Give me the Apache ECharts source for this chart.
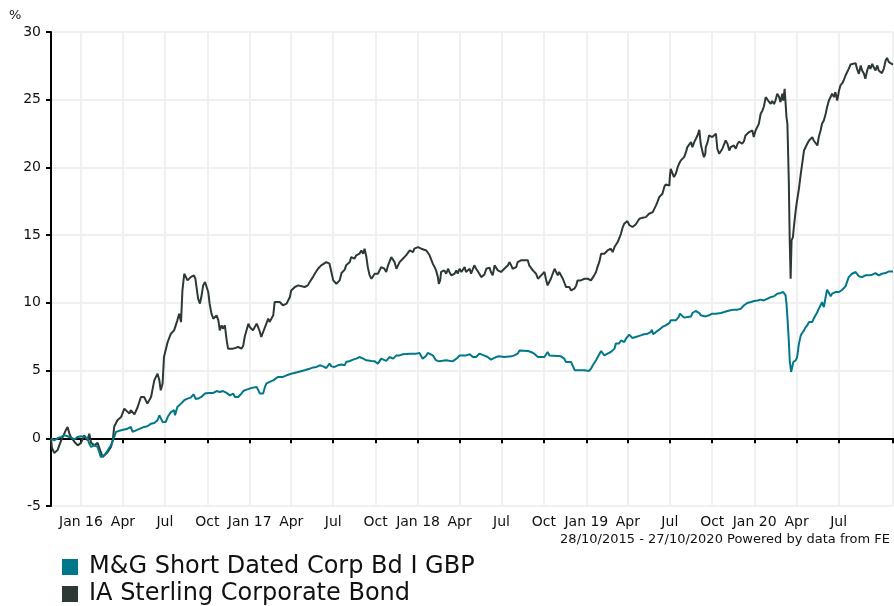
<!DOCTYPE html>
<html>
<head>
<meta charset="utf-8">
<title>M&amp;G Short Dated Corp Bd I GBP vs IA Sterling Corporate Bond</title>
<script src="https://cdn.jsdelivr.net/npm/echarts@6/dist/echarts.min.js"></script>
<style>
  html, body { margin: 0; padding: 0; background: #fff; }
  #chart { width: 894px; height: 606px; }
</style>
</head>
<body>
<div id="chart"></div>
<script>
// series names
var fundName = 'M&G Short Dated Corp Bd I GBP';
var sectorName = 'IA Sterling Corporate Bond';

// period shown
var startDate = '2015-10-28';
var endDate = '2020-10-27';

// x axis: quarter starts and their labels
var tickDates = ['2016-01-01','2016-04-01','2016-07-01','2016-10-01',
  '2017-01-01','2017-04-01','2017-07-01','2017-10-01',
  '2018-01-01','2018-04-01','2018-07-01','2018-10-01',
  '2019-01-01','2019-04-01','2019-07-01','2019-10-01',
  '2020-01-01','2020-04-01','2020-07-01'];
var tickLabels = ['Jan 16','Apr','Jul','Oct','Jan 17','Apr','Jul','Oct',
  'Jan 18','Apr','Jul','Oct','Jan 19','Apr','Jul','Oct','Jan 20','Apr','Jul'];

// cumulative performance, %
var fundData = [
  ['2015-10-28',0],['2015-11-04',-0.15],['2015-11-11',0],['2015-11-19',0.1],['2015-11-26',0.22],
  ['2015-12-03',0.15],['2015-12-10',0.05],['2015-12-18',-0.07],['2015-12-25',0.1],['2016-01-01',0.15],
  ['2016-01-08',0.1],['2016-01-15',0],['2016-01-19',-0.39],['2016-01-23',-0.64],['2016-01-30',-0.52],
  ['2016-02-06',-0.64],['2016-02-13',-1.38],['2016-02-17',-1.45],['2016-02-21',-1.25],['2016-02-28',-0.89],
  ['2016-03-06',-0.52],['2016-03-13',0.1],['2016-03-17',0.47],['2016-03-20',0.54],['2016-03-28',0.59],
  ['2016-04-11',0.71],['2016-04-18',0.84],['2016-04-22',0.47],['2016-04-26',0.54],['2016-05-03',0.64],
  ['2016-05-17',0.84],['2016-05-24',0.89],['2016-06-01',1.08],['2016-06-08',1.13],['2016-06-15',1.33],
  ['2016-06-19',1.70],['2016-06-22',1.57],['2016-06-26',1.21],['2016-07-03',1.21],['2016-07-07',1.57],
  ['2016-07-14',1.94],['2016-07-21',2.07],['2016-07-23',1.70],['2016-07-28',2.31],['2016-08-05',2.56],
  ['2016-08-12',2.81],['2016-08-19',2.93],['2016-08-26',3.0],['2016-09-01',3.25],['2016-09-06',2.9],
  ['2016-09-11',2.93],['2016-09-18',3.05],['2016-09-26',3.30],['2016-10-03',3.35],['2016-10-06',3.49],
  ['2016-10-14',3.35],['2016-10-21',3.49],['2016-10-28',3.42],['2016-11-04',3.49],['2016-11-12',3.35],
  ['2016-11-19',3.17],['2016-11-26',3.30],['2016-11-30',3.05],['2016-12-03',2.93],['2016-12-07',3.05],
  ['2016-12-14',3.30],['2016-12-18',3.49],['2016-12-25',3.59],['2017-01-01',3.67],['2017-01-08',3.74],
  ['2017-01-16',3.79],['2017-01-19',3.59],['2017-01-23',3.30],['2017-01-30',3.30],['2017-02-03',3.79],
  ['2017-02-06',4.03],['2017-02-13',4.16],['2017-02-21',4.28],['2017-02-24',4.40],['2017-03-03',4.53],
  ['2017-03-14',4.53],['2017-03-22',4.65],['2017-04-01',4.77],['2017-04-16',4.90],['2017-04-30',5.02],
  ['2017-05-11',5.14],['2017-05-18',5.22],['2017-05-26',5.27],['2017-06-02',5.39],['2017-06-09',5.31],
  ['2017-06-16',5.19],['2017-06-23',5.51],['2017-06-27',5.31],['2017-07-04',5.27],['2017-07-11',5.39],
  ['2017-07-19',5.45],['2017-07-26',5.4],['2017-07-29',5.63],['2017-08-06',5.71],['2017-08-13',5.81],
  ['2017-08-20',5.88],['2017-08-27',6.0],['2017-09-04',5.88],['2017-09-11',5.76],['2017-09-22',5.71],
  ['2017-09-29',5.68],['2017-10-06',5.51],['2017-10-13',5.88],['2017-10-17',6.0],['2017-10-24',5.71],
  ['2017-10-31',6.0],['2017-11-08',5.88],['2017-11-15',6.12],['2017-11-22',6.12],['2017-11-29',6.2],
  ['2017-12-14',6.25],['2017-12-28',6.25],['2018-01-04',6.3],['2018-01-08',6.2],['2018-01-11',5.88],
  ['2018-01-19',6.12],['2018-01-22',6.3],['2018-02-02',6.12],['2018-02-09',5.76],['2018-02-16',5.68],
  ['2018-03-03',5.76],['2018-03-17',5.68],['2018-03-21',5.63],['2018-03-28',5.95],['2018-04-01',6.12],
  ['2018-04-15',6.12],['2018-04-23',6.2],['2018-04-30',6.0],['2018-05-07',6.0],['2018-05-14',6.25],
  ['2018-05-18',6.3],['2018-05-25',6.1],['2018-06-01',6.0],['2018-06-08',5.81],['2018-06-12',5.95],
  ['2018-06-19',6.0],['2018-06-26',6.05],['2018-07-07',6.0],['2018-07-22',6.05],['2018-07-29',6.12],
  ['2018-08-05',6.25],['2018-08-09',6.49],['2018-08-12',6.54],['2018-08-27',6.44],['2018-09-03',6.37],
  ['2018-09-10',6.25],['2018-09-18',6.0],['2018-10-02',6.0],['2018-10-06',6.05],['2018-10-09',6.37],
  ['2018-10-13',6.12],['2018-10-16',6.0],['2018-11-07',6.05],['2018-11-14',5.88],['2018-11-18',5.63],
  ['2018-11-21',5.51],['2018-11-29',5.63],['2018-12-02',5.39],['2018-12-06',5.51],['2018-12-07',5.02],
  ['2018-12-13',5.02],['2018-12-28',5.02],['2019-01-07',4.97],['2019-01-11',5.14],['2019-01-15',5.39],
  ['2019-01-18',5.51],['2019-01-22',5.76],['2019-01-25',5.81],['2019-01-29',6.2],['2019-02-02',6.44],
  ['2019-02-05',6.37],['2019-02-09',6.12],['2019-02-13',6.12],['2019-02-16',6.25],['2019-02-23',6.37],
  ['2019-03-03',6.62],['2019-03-06',6.99],['2019-03-10',7.11],['2019-03-13',6.99],['2019-03-17',7.23],
  ['2019-03-21',7.36],['2019-03-24',7.11],['2019-03-28',7.36],['2019-03-31',7.48],['2019-04-04',7.65],
  ['2019-04-08',7.6],['2019-04-11',7.4],['2019-04-15',7.3],['2019-04-18',7.48],['2019-04-22',7.53],
  ['2019-04-29',7.6],['2019-05-06',7.68],['2019-05-14',7.72],['2019-05-21',7.85],['2019-05-23',8.02],
  ['2019-05-26',7.68],['2019-06-01',7.85],['2019-06-08',8.02],['2019-06-15',8.22],['2019-06-22',8.34],
  ['2019-06-30',8.51],['2019-07-03',8.71],['2019-07-07',8.59],['2019-07-14',8.71],['2019-07-20',8.95],
  ['2019-07-23',9.20],['2019-07-27',9.08],['2019-08-01',8.91],['2019-08-08',8.95],['2019-08-16',9.0],
  ['2019-08-19',9.25],['2019-08-26',9.40],['2019-08-30',9.45],['2019-09-03',9.25],['2019-09-06',9.08],
  ['2019-09-10',9.15],['2019-09-17',9.0],['2019-09-24',9.08],['2019-10-01',9.20],['2019-10-05',9.32],
  ['2019-10-09',9.20],['2019-10-12',9.15],['2019-10-20',9.25],['2019-10-27',9.32],['2019-11-03',9.40],
  ['2019-11-10',9.45],['2019-11-17',9.50],['2019-11-25',9.50],['2019-12-02',9.57],['2019-12-09',9.82],
  ['2019-12-13',9.94],['2019-12-16',9.99],['2019-12-24',10.06],['2019-12-31',10.14],['2020-01-07',10.18],
  ['2020-01-14',10.24],['2020-01-18',10.31],['2020-01-21',10.18],['2020-01-29',10.31],['2020-02-05',10.43],
  ['2020-02-12',10.48],['2020-02-19',10.68],['2020-02-23',10.6],['2020-02-26',10.73],['2020-03-01',10.63],
  ['2020-03-03',10.80],['2020-03-05',10.92],['2020-03-08',10.55],['2020-03-10',9.94],['2020-03-12',8.95],
  ['2020-03-15',7.23],['2020-03-17',5.76],['2020-03-20',4.90],['2020-03-23',5.02],['2020-03-25',5.63],
  ['2020-03-28',5.51],['2020-03-30',5.76],['2020-04-02',6.0],['2020-04-06',6.99],['2020-04-10',7.6],
  ['2020-04-13',7.77],['2020-04-17',7.97],['2020-04-20',8.17],['2020-04-24',8.34],['2020-04-28',8.59],
  ['2020-05-01',8.71],['2020-05-05',8.59],['2020-05-08',8.83],['2020-05-12',9.08],['2020-05-16',9.32],
  ['2020-05-19',9.57],['2020-05-23',9.82],['2020-05-26',10.06],['2020-05-30',9.69],['2020-06-03',10.43],
  ['2020-06-06',10.97],['2020-06-10',10.87],['2020-06-14',10.48],['2020-06-17',10.68],['2020-06-24',10.80],
  ['2020-07-02',10.80],['2020-07-09',10.97],['2020-07-16',11.22],['2020-07-20',11.29],['2020-07-23',11.9],
  ['2020-07-30',12.15],['2020-08-07',12.28],['2020-08-10',12.28],['2020-08-14',11.96],['2020-08-21',11.9],
  ['2020-08-28',12.03],['2020-09-05',12.03],['2020-09-12',12.08],['2020-09-19',12.2],['2020-09-26',12.03],
  ['2020-10-03',12.15],['2020-10-11',12.2],['2020-10-18',12.32],['2020-10-27',12.32]
];

var sectorData = [
  ['2015-10-28',0],['2015-10-30',-0.7],['2015-11-04',-1.08],['2015-11-11',-0.89],['2015-11-19',-0.15],
  ['2015-11-29',0.59],['2015-12-03',0.84],['2015-12-07',0.34],['2015-12-10',0.1],['2015-12-18',-0.27],
  ['2015-12-25',-0.52],['2016-01-01',-0.34],['2016-01-08',0.22],['2016-01-12',0.22],['2016-01-15',-0.15],
  ['2016-01-19',0.34],['2016-01-23',-0.34],['2016-01-30',-0.52],['2016-02-06',-0.34],['2016-02-13',-1.01],
  ['2016-02-17',-1.38],['2016-02-21',-1.25],['2016-02-28',-1.01],['2016-03-06',-0.64],['2016-03-10',-0.15],
  ['2016-03-13',0.84],['2016-03-20',1.33],['2016-03-28',1.57],['2016-04-04',2.19],['2016-04-07',2.31],
  ['2016-04-15',1.82],['2016-04-18',2.07],['2016-04-26',1.77],['2016-05-03',2.31],['2016-05-10',3.05],
  ['2016-05-17',3.05],['2016-05-24',2.56],['2016-06-01',3.05],['2016-06-08',4.28],['2016-06-15',4.77],
  ['2016-06-19',4.28],['2016-06-22',3.54],['2016-06-26',4.04],['2016-06-29',6.0],['2016-07-07',7.11],
  ['2016-07-14',7.72],['2016-07-21',7.97],['2016-07-25',7.85],['2016-07-28',8.71],['2016-08-01',9.2],
  ['2016-08-05',8.58],['2016-08-08',10.92],['2016-08-12',12.15],['2016-08-15',12.03],['2016-08-19',11.66],
  ['2016-08-26',11.9],['2016-09-02',12.03],['2016-09-05',11.8],['2016-09-08',11.66],['2016-09-11',10.31],
  ['2016-09-15',9.94],['2016-09-18',10.43],['2016-09-22',11.29],['2016-09-26',11.54],['2016-09-29',11.41],
  ['2016-10-03',10.8],['2016-10-06',9.94],['2016-10-10',9.2],['2016-10-14',8.83],['2016-10-17',8.71],
  ['2016-10-21',9.08],['2016-10-25',8.71],['2016-10-28',7.97],['2016-11-01',8.34],['2016-11-04',8.09],
  ['2016-11-08',8.34],['2016-11-12',7.23],['2016-11-15',6.62],['2016-11-19',6.49],['2016-11-26',6.62],
  ['2016-11-30',6.49],['2016-12-07',6.74],['2016-12-14',6.62],['2016-12-18',6.86],['2016-12-21',7.48],
  ['2016-12-29',8.46],['2017-01-01',8.22],['2017-01-08',7.97],['2017-01-16',8.46],['2017-01-19',8.22],
  ['2017-01-23',7.85],['2017-01-26',7.48],['2017-01-30',7.6],['2017-02-06',8.46],['2017-02-10',8.83],
  ['2017-02-13',8.59],['2017-02-21',9.08],['2017-02-24',10.06],['2017-02-28',10.18],['2017-03-07',10.06],
  ['2017-03-14',9.82],['2017-03-22',9.94],['2017-03-29',10.43],['2017-04-01',10.92],['2017-04-09',11.17],
  ['2017-04-16',11.29],['2017-04-30',11.17],['2017-05-07',11.29],['2017-05-11',11.54],['2017-05-18',11.9],
  ['2017-05-22',12.15],['2017-05-29',12.52],['2017-06-05',12.77],['2017-06-16',13.01],['2017-06-20',13.14],
  ['2017-06-23',12.89],['2017-06-27',12.28],['2017-07-01',11.66],['2017-07-08',11.41],['2017-07-15',11.66],
  ['2017-07-19',12.2],['2017-07-26',12.45],['2017-07-29',12.77],['2017-08-06',13.01],['2017-08-09',13.38],
  ['2017-08-16',13.26],['2017-08-20',13.51],['2017-08-27',13.63],['2017-08-31',13.87],['2017-09-04',13.63],
  ['2017-09-07',14.0],['2017-09-11',13.38],['2017-09-14',12.64],['2017-09-18',12.03],['2017-09-22',11.78],
  ['2017-09-25',11.9],['2017-09-29',12.15],['2017-10-02',12.03],['2017-10-06',12.15],['2017-10-10',12.15],
  ['2017-10-13',12.64],['2017-10-17',12.77],['2017-10-20',12.52],['2017-10-24',12.28],['2017-10-28',12.77],
  ['2017-10-31',12.89],['2017-11-04',13.38],['2017-11-08',13.51],['2017-11-11',13.01],['2017-11-15',12.52],
  ['2017-11-18',12.64],['2017-11-22',13.01],['2017-11-26',12.89],['2017-11-29',13.26],['2017-12-03',13.14],
  ['2017-12-06',13.51],['2017-12-10',13.38],['2017-12-14',13.87],['2017-12-17',14.0],['2017-12-21',13.75],
  ['2017-12-24',14.0],['2018-01-01',14.12],['2018-01-04',14.24],['2018-01-08',14.0],['2018-01-11',14.12],
  ['2018-01-19',13.87],['2018-01-22',13.75],['2018-01-26',13.51],['2018-01-30',13.38],['2018-02-02',12.89],
  ['2018-02-06',12.64],['2018-02-09',12.40],['2018-02-13',11.9],['2018-02-15',11.41],['2018-02-18',11.66],
  ['2018-02-20',12.28],['2018-02-24',12.15],['2018-02-27',12.40],['2018-03-03',12.15],['2018-03-07',12.52],
  ['2018-03-10',12.28],['2018-03-14',12.03],['2018-03-21',12.15],['2018-03-25',12.40],['2018-03-28',12.15],
  ['2018-04-01',12.52],['2018-04-05',12.28],['2018-04-08',12.40],['2018-04-12',12.64],['2018-04-15',12.28],
  ['2018-04-19',12.40],['2018-04-23',12.52],['2018-04-26',12.15],['2018-04-30',12.28],['2018-05-03',12.77],
  ['2018-05-07',12.52],['2018-05-11',12.64],['2018-05-14',12.15],['2018-05-18',11.9],['2018-05-21',11.9],
  ['2018-05-25',12.1],['2018-05-29',12.52],['2018-06-01',12.40],['2018-06-05',12.6],['2018-06-08',12.28],
  ['2018-06-12',12.03],['2018-06-16',12.77],['2018-06-19',12.64],['2018-06-23',12.40],['2018-06-26',12.52],
  ['2018-06-30',12.28],['2018-07-04',12.40],['2018-07-07',12.52],['2018-07-11',12.64],['2018-07-15',12.77],
  ['2018-07-18',13.01],['2018-07-22',12.77],['2018-07-25',12.52],['2018-07-29',12.40],['2018-08-02',12.64],
  ['2018-08-05',13.01],['2018-08-09',12.89],['2018-08-12',13.14],['2018-08-16',13.26],['2018-08-20',13.14],
  ['2018-08-23',13.01],['2018-08-27',13.14],['2018-08-30',12.77],['2018-09-03',12.64],['2018-09-07',12.40],
  ['2018-09-10',12.28],['2018-09-14',12.15],['2018-09-18',11.78],['2018-09-21',11.66],['2018-09-25',12.03],
  ['2018-09-28',11.90],['2018-10-02',12.28],['2018-10-06',11.66],['2018-10-09',11.29],['2018-10-13',11.41],
  ['2018-10-16',11.78],['2018-10-20',12.15],['2018-10-24',12.52],['2018-10-27',12.40],['2018-10-31',12.03],
  ['2018-11-03',12.28],['2018-11-07',12.15],['2018-11-11',11.78],['2018-11-14',11.90],['2018-11-18',11.17],
  ['2018-11-21',11.05],['2018-11-25',11.17],['2018-11-29',10.92],['2018-12-02',10.80],['2018-12-06',11.05],
  ['2018-12-10',11.29],['2018-12-13',11.66],['2018-12-17',11.78],['2018-12-20',11.66],['2018-12-28',11.78],
  ['2019-01-04',11.78],['2019-01-07',11.90],['2019-01-11',11.66],['2019-01-15',11.78],['2019-01-18',12.03],
  ['2019-01-22',12.28],['2019-01-25',12.64],['2019-01-29',13.01],['2019-02-02',13.63],['2019-02-05',13.75],
  ['2019-02-09',13.63],['2019-02-13',13.75],['2019-02-16',13.87],['2019-02-23',14.0],['2019-02-27',13.75],
  ['2019-03-03',14.12],['2019-03-06',14.24],['2019-03-10',14.49],['2019-03-13',14.61],['2019-03-17',15.1],
  ['2019-03-21',15.6],['2019-03-24',15.84],['2019-03-28',15.97],['2019-03-31',16.04],['2019-04-04',15.75],
  ['2019-04-08',15.72],['2019-04-11',15.6],['2019-04-15',15.65],['2019-04-18',15.79],['2019-04-22',15.84],
  ['2019-04-26',16.21],['2019-04-29',16.33],['2019-05-03',16.29],['2019-05-06',16.38],['2019-05-10',16.33],
  ['2019-05-14',16.46],['2019-05-17',16.58],['2019-05-21',16.46],['2019-05-25',16.7],['2019-05-28',16.83],
  ['2019-06-01',17.2],['2019-06-04',17.44],['2019-06-08',17.81],['2019-06-12',17.93],['2019-06-15',18.06],
  ['2019-06-19',18.55],['2019-06-22',18.75],['2019-06-26',18.8],['2019-06-30',18.67],['2019-07-01',19.29],
  ['2019-07-03',19.9],['2019-07-07',20.02],['2019-07-10',19.29],['2019-07-14',19.53],['2019-07-18',20.02],
  ['2019-07-21',20.27],['2019-07-25',20.52],['2019-07-29',20.52],['2019-08-01',20.76],['2019-08-05',21.13],
  ['2019-08-08',21.5],['2019-08-12',21.62],['2019-08-16',21.87],['2019-08-19',21.5],['2019-08-23',21.87],
  ['2019-08-26',21.75],['2019-08-30',22.36],['2019-09-03',22.78],['2019-09-06',21.75],['2019-09-10',21.13],
  ['2019-09-13',20.76],['2019-09-16',21.01],['2019-09-17',21.5],['2019-09-21',21.87],['2019-09-24',22.36],
  ['2019-09-28',22.49],['2019-10-01',22.24],['2019-10-05',22.36],['2019-10-09',22.49],['2019-10-12',21.38],
  ['2019-10-16',21.01],['2019-10-20',21.13],['2019-10-23',21.38],['2019-10-27',21.5],['2019-10-30',21.99],
  ['2019-11-03',21.75],['2019-11-07',21.25],['2019-11-10',21.5],['2019-11-14',21.38],['2019-11-17',21.62],
  ['2019-11-21',21.38],['2019-11-25',21.75],['2019-11-28',21.9],['2019-12-02',21.99],['2019-12-05',21.75],
  ['2019-12-09',21.95],['2019-12-12',22.36],['2019-12-16',22.3],['2019-12-20',22.61],['2019-12-23',22.49],
  ['2019-12-27',22.73],['2019-12-30',22.24],['2020-01-03',22.73],['2020-01-07',23.0],['2020-01-10',23.22],
  ['2020-01-14',23.96],['2020-01-18',24.21],['2020-01-21',24.5],['2020-01-25',25.19],['2020-01-28',25.2],
  ['2020-02-01',24.85],['2020-02-05',24.70],['2020-02-08',24.9],['2020-02-12',24.68],['2020-02-15',24.94],
  ['2020-02-19',25.44],['2020-02-23',25.2],['2020-02-26',24.82],['2020-03-01',25.44],['2020-03-03',24.94],
  ['2020-03-06',25.81],['2020-03-08',25.93],['2020-03-10',23.71],['2020-03-12',23.22],['2020-03-15',19.04],
  ['2020-03-17',14.61],['2020-03-19',11.79],['2020-03-21',14.61],['2020-03-24',14.86],['2020-03-26',15.6],
  ['2020-03-30',16.83],['2020-04-02',17.56],['2020-04-06',18.43],['2020-04-10',19.53],['2020-04-13',20.27],
  ['2020-04-17',21.25],['2020-04-20',21.38],['2020-04-24',21.75],['2020-04-28',21.99],['2020-05-01',21.99],
  ['2020-05-05',22.24],['2020-05-08',21.99],['2020-05-12',21.87],['2020-05-16',21.62],['2020-05-19',22.24],
  ['2020-05-23',22.73],['2020-05-26',23.22],['2020-05-30',23.47],['2020-06-03',23.96],['2020-06-06',24.45],
  ['2020-06-10',24.94],['2020-06-14',25.07],['2020-06-17',25.44],['2020-06-21',25.19],['2020-06-24',25.56],
  ['2020-06-28',24.94],['2020-07-02',25.68],['2020-07-05',26.05],['2020-07-09',26.22],['2020-07-12',26.42],
  ['2020-07-16',26.79],['2020-07-20',26.91],['2020-07-23',27.28],['2020-07-27',27.6],['2020-07-30',27.65],
  ['2020-08-07',27.70],['2020-08-10',27.28],['2020-08-14',26.91],['2020-08-18',27.53],['2020-08-21',27.16],
  ['2020-08-25',26.91],['2020-08-28',26.54],['2020-09-01',27.16],['2020-09-05',27.53],['2020-09-08',27.28],
  ['2020-09-12',27.65],['2020-09-15',27.41],['2020-09-19',27.16],['2020-09-23',27.53],['2020-09-26',27.16],
  ['2020-09-30',27.04],['2020-10-03',26.96],['2020-10-07',27.28],['2020-10-11',27.9],['2020-10-14',28.09],
  ['2020-10-18',27.77],['2020-10-22',27.65],['2020-10-27',27.6]
];

var fundColor = '#00788a';
var sectorColor = '#2d3935';
var font = 'DejaVu Sans, Verdana, sans-serif';

function toTime(d) {
  return echarts.number.parseDate(d).getTime();
}
function toPoints(rows) {
  return rows.map(function (r) { return [toTime(r[0]), r[1]]; });
}

// label lookup by timestamp
var labelByTime = {};
tickDates.forEach(function (d, i) {
  labelByTime[toTime(d)] = tickLabels[i];
});
var tickTimes = tickDates.map(toTime);

var chart = echarts.init(document.getElementById('chart'), null, { renderer: 'canvas' });

var option = {
  animation: false,
  backgroundColor: '#fff',
  grid: { left: 51, right: 1, top: 32, bottom: 100, containLabel: false },
  legend: {
    orient: 'vertical',
    left: 62,
    top: 555,
    padding: 0,
    itemWidth: 16,
    itemHeight: 16,
    itemGap: 3,
    icon: 'rect',
    selectedMode: false,
    textStyle: { fontFamily: font, fontSize: 24, color: '#111', padding: [0, 0, 0, 6] },
    data: [fundName, sectorName]
  },
  xAxis: {
    type: 'value',
    min: toTime(startDate),
    max: toTime(endDate),
    axisLine: { lineStyle: { color: '#000', width: 2 } },
    axisTick: { show: true, length: 5, lineStyle: { color: '#000', width: 2 },
      customValues: tickTimes.concat([toTime(startDate), toTime(endDate)]) },
    axisLabel: {
      customValues: tickTimes,
      fontFamily: font, fontSize: 14, color: '#111', margin: 9,
      formatter: function (v) { return labelByTime[v] || ''; }
    },
    splitLine: { show: true, lineStyle: { color: '#f0f0f0', width: 2 } }
  },
  yAxis: {
    type: 'value',
    min: -5,
    max: 30,
    interval: 5,
    axisLine: { show: true, lineStyle: { color: '#000', width: 2 } },
    axisTick: { show: true, length: 5, lineStyle: { color: '#000', width: 2 } },
    axisLabel: { fontFamily: font, fontSize: 14, color: '#111', margin: 10 },
    splitLine: { show: true, lineStyle: { color: '#f0f0f0', width: 2 } }
  },
  graphic: [
    { type: 'text', left: 9, top: 9,
      style: { text: '%', font: '13px ' + font, fill: '#111' } },
    { type: 'text', right: 4, top: 533,
      style: { text: '28/10/2015 - 27/10/2020 Powered by data from FE', font: '13px ' + font, fill: '#111' } }
  ],
  series: [
    {
      name: sectorName,
      type: 'line',
      data: toPoints(sectorData),
      showSymbol: false,
      color: sectorColor,
      lineStyle: { width: 2, color: sectorColor },
      z: 2
    },
    {
      name: fundName,
      type: 'line',
      data: toPoints(fundData),
      showSymbol: false,
      color: fundColor,
      lineStyle: { width: 2, color: fundColor },
      z: 3
    }
  ]
};

chart.setOption(option);
</script>
</body>
</html>
